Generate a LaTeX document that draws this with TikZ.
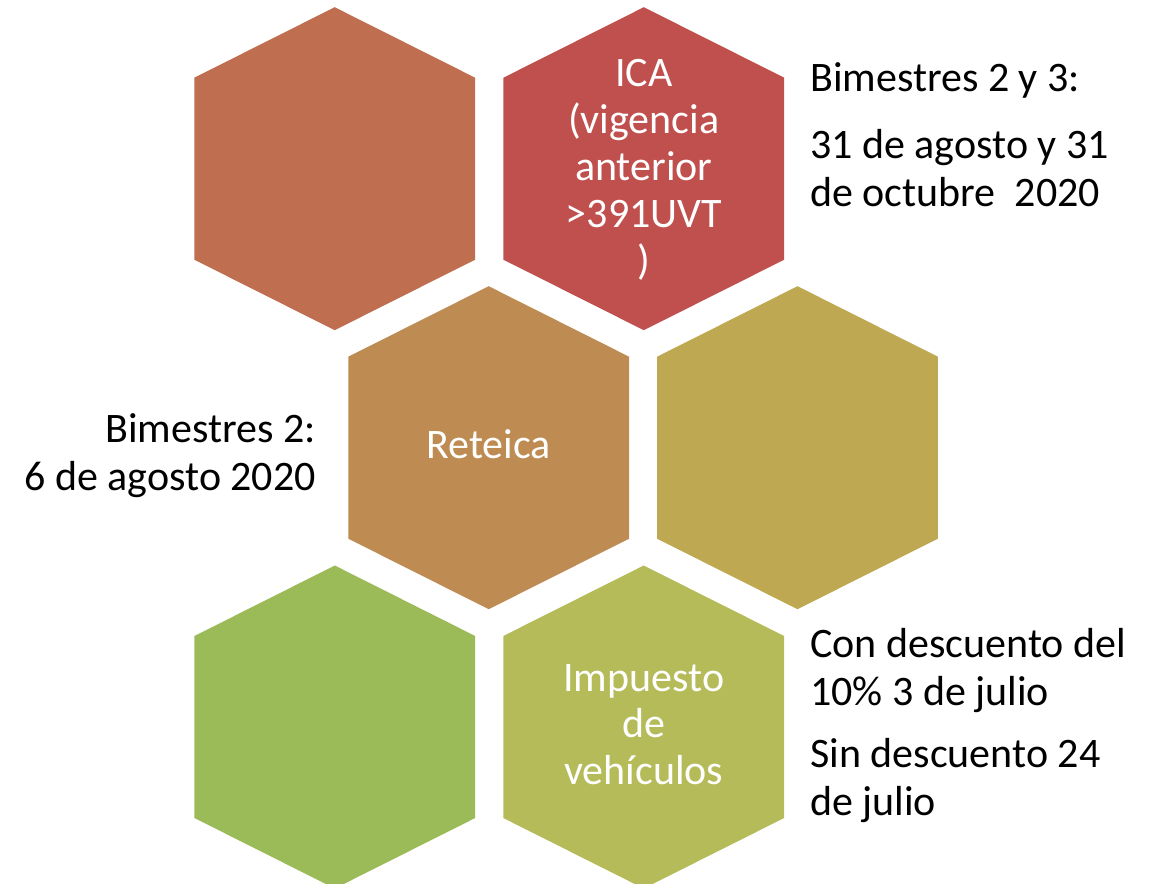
\documentclass[tikz,border=0pt]{standalone}
\usepackage{fontspec}
\setmainfont{Carlito}
\definecolor{hexA}{HTML}{BF6E50}
\definecolor{hexB}{HTML}{C0504D}
\definecolor{hexC}{HTML}{BE8C52}
\definecolor{hexD}{HTML}{BEA852}
\definecolor{hexE}{HTML}{9BBB59}
\definecolor{hexF}{HTML}{B5BB59}
\newcommand{\hexcell}[3]{%
  \coordinate (#1) at (#2);
  \fill[#3, shift={(#2)}] (0,-161.5) -- (140.4,-91) -- (140.4,91) -- (0,161.5) -- (-140.4,91) -- (-140.4,-91) -- cycle;}
\tikzset{
  hextext/.style={text=white, font=\fontsize{42}{47}\selectfont, align=center, inner sep=0pt, anchor=base},
  sidetext/.style={text=black, font=\fontsize{42}{48}\selectfont, inner sep=0pt}
}
\begin{document}
\begin{tikzpicture}[x=1pt,y=-1pt]
\useasboundingbox (0,0) rectangle (1160,884);
\hexcell{h1}{334.7,168.7}{hexA}
\hexcell{h2}{643.8,168.7}{hexB}
\hexcell{h3}{488.7,447.7}{hexC}
\hexcell{h4}{797.5,447.7}{hexD}
\hexcell{h5}{334.8,727}{hexE}
\hexcell{h6}{643.7,727}{hexF}
\node[hextext] (ica) at (643.8,274) {ICA\\(vigencia\\anterior\\>391UVT\\)};
\node[hextext] (rete) at (488.7,458.3) {Reteica};
\node[hextext, font=\fontsize{42}{46.2}\selectfont] (veh) at (643.7,784) {Impuesto\\de\\vehículos};
\node[sidetext, anchor=base west, align=left] (t1) at (810,206) {Bimestres 2 y 3:\\[18.3pt]31 de agosto y 31\\de octubre\ \ 2020};
\node[sidetext, anchor=base east, align=right] (t2) at (316,490) {Bimestres 2:\\6 de agosto 2020};
\node[sidetext, anchor=base west, align=left] (t3) at (810,815) {Con descuento del\\10\% 3 de julio\\[13.7pt]Sin descuento 24\\de julio};
\end{tikzpicture}
\end{document}
